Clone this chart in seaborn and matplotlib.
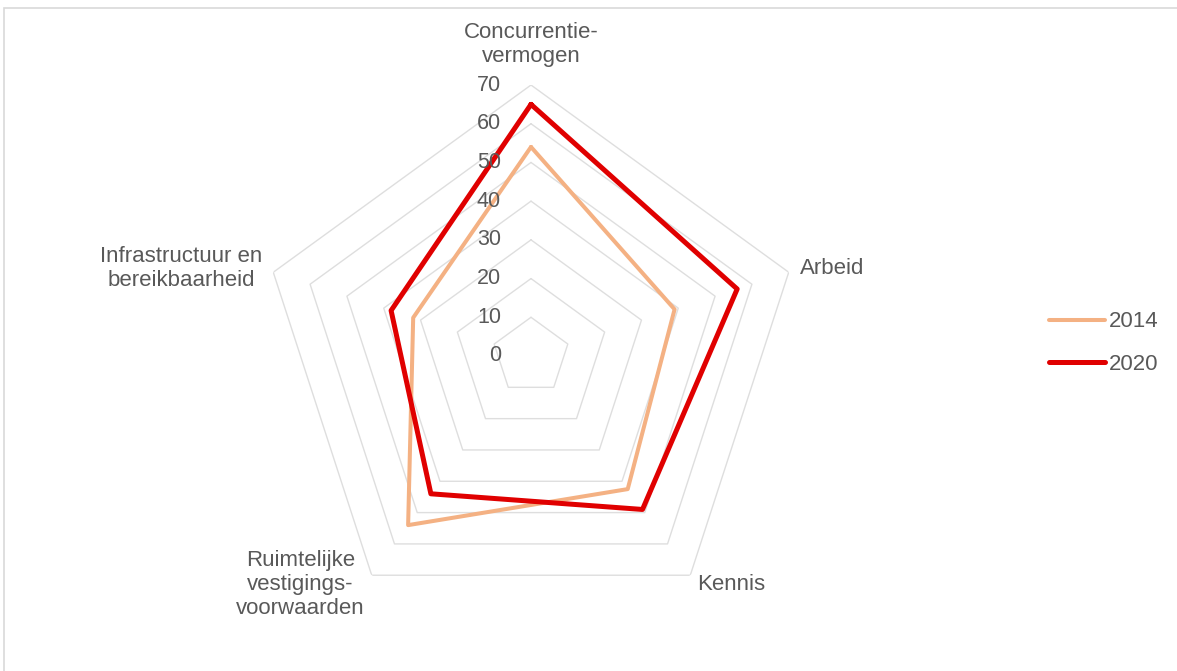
import numpy as np
import pandas as pd
import matplotlib
matplotlib.use("Agg")
import matplotlib.pyplot as plt
import matplotlib.transforms as mtransforms
import seaborn as sns

categories = ["Concurrentie-\nvermogen", "Arbeid", "Kennis",
              "Ruimtelijke\nvestigings-\nvoorwaarden", "Infrastructuur en\nbereikbaarheid"]
years = ["2014", "2020"]
values_2014 = [54, 39, 42.5, 54, 32]
values_2020 = [65, 56, 49, 44, 38]
r_ticks = [0, 10, 20, 30, 40, 50, 60, 70]

sns.set_style("white")
plt.rcParams['font.family'] = ['Liberation Sans', 'DejaVu Sans']

n = len(categories)
angles = np.linspace(0, 2 * np.pi, n, endpoint=False)
closed = np.append(angles, 2 * np.pi)

rows = []
for year, vals in zip(years, [values_2014, values_2020]):
    vals = list(vals) + [vals[0]]
    for a, v in zip(closed, vals):
        rows.append({"angle": a, "value": v, "year": year})
df = pd.DataFrame(rows)

fig = plt.figure(figsize=(11.77, 6.71), dpi=100)
ax = fig.add_axes([0.2209, 0.0656, 0.4605, 0.8077], projection="polar")
ax.set_theta_offset(np.pi / 2)
ax.set_theta_direction(-1)
ax.grid(False)
ax.spines['polar'].set_visible(False)
ax.set_xticks([])
ax.set_yticks([])

grid_col = "#dedede"
for lvl in r_ticks[1:]:
    ax.plot(closed, [lvl] * (n + 1), color=grid_col, lw=1, zorder=1)

colors = {"2014": "#f4b183", "2020": "#e00000"}
widths = {"2014": 2.9, "2020": 3.6}
for year in years:
    sub = df[df["year"] == year]
    sns.lineplot(x=sub["angle"], y=sub["value"], sort=False, estimator=None,
                 color=colors[year], lw=widths[year], label=year, ax=ax, zorder=3)

ax.set_ylim(0, 70)
ax.set_xlabel("")
ax.set_ylabel("")

txt_col = "#595959"
fs = 16
off = mtransforms.offset_copy(ax.transData, fig=fig, x=-30, y=0, units="dots")
for t in r_ticks:
    ax.text(0, t, str(t), transform=off, ha="right", va="center",
            color=txt_col, fontsize=15.5)

label_pos = [(80.5, "center", "center"), (73, "left", "center"), (73, "left", "center"),
             (73, "right", "center"), (73, "right", "center")]
for a, lab, (r, ha, va) in zip(angles, categories, label_pos):
    ax.text(a, r, lab, ha=ha, va=va, multialignment="center",
            color=txt_col, fontsize=fs, linespacing=1.2)

handles, labels = ax.get_legend_handles_labels()
if ax.legend_ is not None:
    ax.legend_.remove()
leg = fig.legend(handles, labels, loc="center left",
                 bbox_to_anchor=(1029 / 1177, 1 - 343 / 671),
                 frameon=False, fontsize=fs, handlelength=2.5,
                 handletextpad=0.2, labelspacing=0.95, labelcolor=txt_col)

fig.patches.append(plt.Rectangle((4 / 1177, -0.1), 1.2, 1 - 8 / 671 + 0.1,
                                 transform=fig.transFigure, fill=False,
                                 edgecolor="#d9d9d9", lw=1.2))

fig.savefig("out.png", dpi=100)
